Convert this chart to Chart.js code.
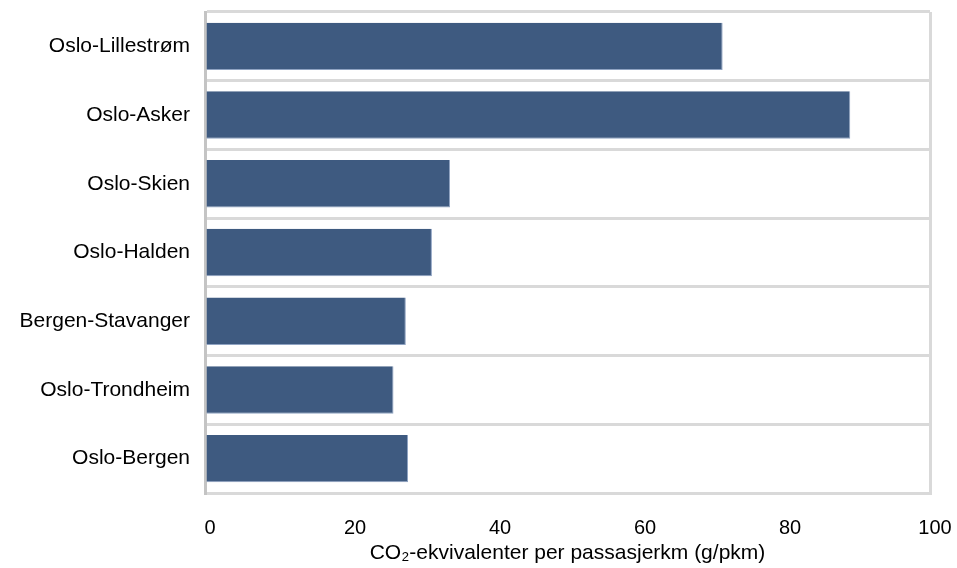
<!DOCTYPE html>
<html>
<head>
<meta charset="utf-8">
<script src="https://cdn.jsdelivr.net/npm/chart.js@4/dist/chart.umd.min.js"></script>
<style>
  html, body { margin: 0; padding: 0; background: #ffffff; }
  #wrap { width: 957px; height: 568px; position: relative; }
</style>
</head>
<body>
<div id="wrap"><canvas id="c" width="957" height="568"></canvas></div>
<script>
// Routes (top to bottom) and emissions in g CO2-eq per passenger-km
const routes = [
  'Oslo-Lillestrøm',
  'Oslo-Asker',
  'Oslo-Skien',
  'Oslo-Halden',
  'Bergen-Stavanger',
  'Oslo-Trondheim',
  'Oslo-Bergen'
];
const emissions = [71.4, 89.0, 33.8, 31.3, 27.7, 26.0, 28.0];
const xTicks = [0, 20, 40, 60, 80, 100];
const xTitle = 'CO\u2082-ekvivalenter per passasjerkm (g/pkm)';

const FONT = 'Liberation Sans, Arial, Helvetica, sans-serif';

new Chart(document.getElementById('c'), {
  type: 'bar',
  data: {
    labels: routes,
    datasets: [{
      data: emissions,
      backgroundColor: '#3e5a80',
      borderColor: '#8fa3c2',
      borderWidth: { top: 0, left: 0, right: 1, bottom: 1 },
      borderSkipped: false,
      categoryPercentage: 0.69,
      barPercentage: 1.0
    }]
  },
  options: {
    indexAxis: 'y',
    responsive: false,
    animation: false,
    devicePixelRatio: 1,
    layout: { padding: { top: 12, right: 27, bottom: 0, left: 0 } },
    plugins: {
      legend: { display: false },
      tooltip: { enabled: false }
    },
    scales: {
      x: {
        type: 'linear',
        min: 0,
        max: 100,
        afterBuildTicks: (s) => { s.ticks = xTicks.map(v => ({ value: v })); },
        afterFit: (s) => { s.height = 75; s.paddingLeft = 0; s.paddingRight = 0; },
        ticks: {
          font: { family: FONT, size: 20 },
          color: '#000000',
          padding: 23,
          labelOffset: 5
        },
        grid: {
          drawTicks: false,
          lineWidth: 3,
          color: (ctx) => (ctx.tick && ctx.tick.value === 100 ? '#d9d9d9' : 'rgba(0,0,0,0)')
        },
        border: { display: true, color: '#d9d9d9', width: 3 },
        title: {
          display: true,
          text: xTitle,
          font: { family: FONT, size: 21 },
          color: '#000000',
          padding: { top: 2, bottom: 2 }
        }
      },
      y: {
        type: 'category',
        offset: true,
        afterFit: (s) => { s.width = 205; s.paddingTop = 0; s.paddingBottom = 0; },
        ticks: {
          font: { family: FONT, size: 21 },
          color: '#000000',
          padding: 15
        },
        grid: {
          offset: true,
          drawTicks: false,
          lineWidth: 3,
          color: '#d9d9d9'
        },
        border: { display: true, color: '#c4c4c4', width: 3 }
      }
    }
  }
});
</script>
</body>
</html>
